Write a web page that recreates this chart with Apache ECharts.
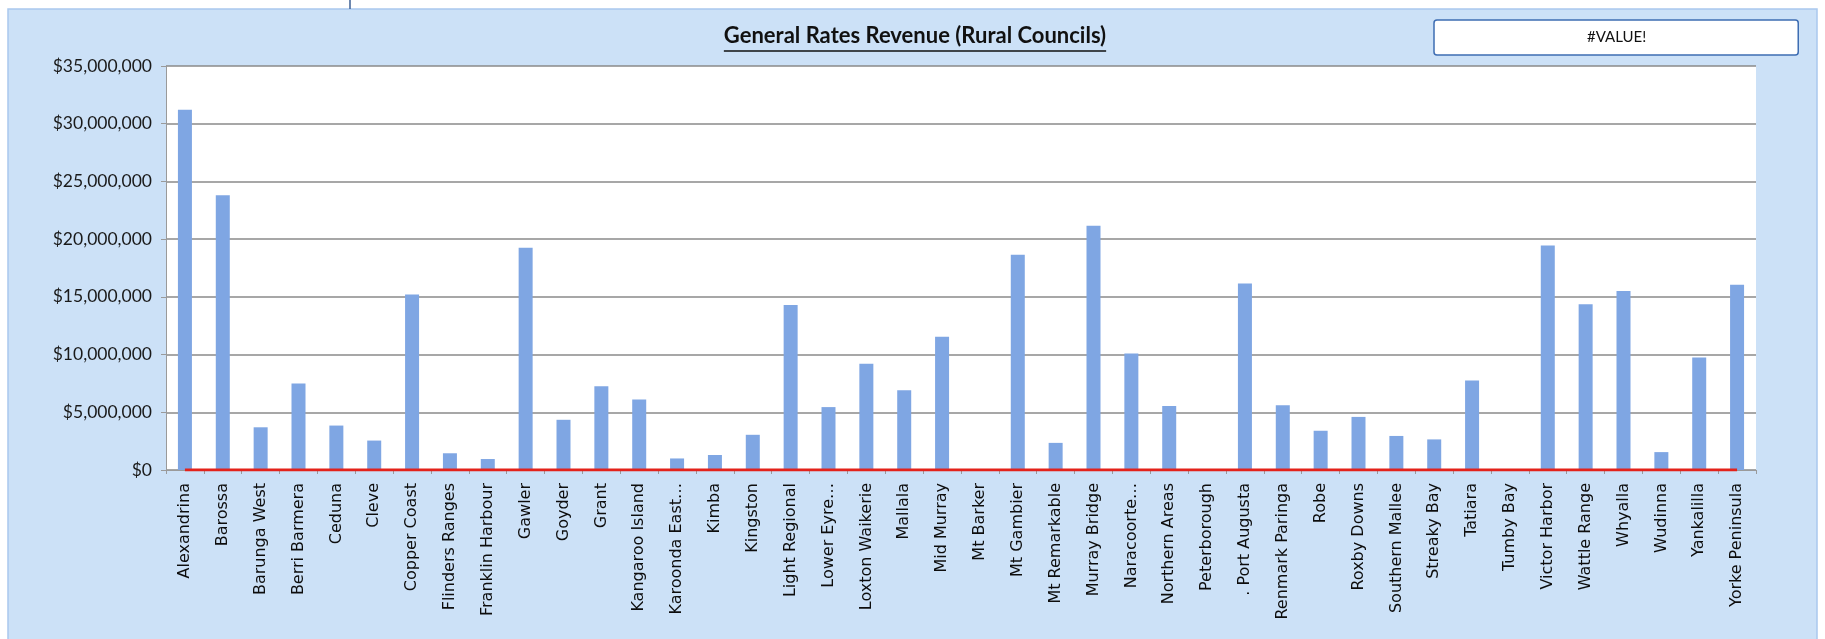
<!DOCTYPE html>
<html>
<head>
<meta charset="utf-8">
<title>General Rates Revenue (Rural Councils)</title>
<script src="https://cdn.jsdelivr.net/npm/echarts@6/dist/echarts.min.js"></script>
<style>
  html, body { margin: 0; padding: 0; background: #ffffff; }
  #chart { width: 1825px; height: 639px; }
</style>
</head>
<body>
<div id="chart"></div>
<script>
// Council names along the category axis
const councils = [
  'Alexandrina', 'Barossa', 'Barunga West', 'Berri Barmera', 'Ceduna', 'Cleve',
  'Copper Coast', 'Flinders Ranges', 'Franklin Harbour', 'Gawler', 'Goyder', 'Grant',
  'Kangaroo Island', 'Karoonda East…', 'Kimba', 'Kingston', 'Light Regional', 'Lower Eyre…',
  'Loxton Waikerie', 'Mallala', 'Mid Murray', 'Mt Barker', 'Mt Gambier', 'Mt Remarkable',
  'Murray Bridge', 'Naracoorte…', 'Northern Areas', 'Peterborough', '. Port Augusta', 'Renmark Paringa',
  'Robe', 'Roxby Downs', 'Southern Mallee', 'Streaky Bay', 'Tatiara', 'Tumby Bay',
  'Victor Harbor', 'Wattle Range', 'Whyalla', 'Wudinna', 'Yankalilla', 'Yorke Peninsula'
];

// General rates revenue per council ($)
const ratesRevenue = [
  31200000, 23800000, 3700000, 7500000, 3850000, 2550000,
  15200000, 1450000, 950000, 19250000, 4350000, 7250000,
  6100000, 1000000, 1300000, 3050000, 14300000, 5450000,
  9200000, 6900000, 11550000, 0, 18650000, 2350000,
  21150000, 10100000, 5550000, 0, 16150000, 5600000,
  3400000, 4600000, 2950000, 2650000, 7750000, 0,
  19450000, 14350000, 15500000, 1550000, 9750000, 16050000
];

// Second series (error result in the source sheet) – plotted at zero
const valueErrorSeries = [
  0, 0, 0, 0, 0, 0, 0, 0, 0, 0, 0, 0, 0, 0,
  0, 0, 0, 0, 0, 0, 0, 0, 0, 0, 0, 0, 0, 0,
  0, 0, 0, 0, 0, 0, 0, 0, 0, 0, 0, 0, 0, 0
];

// Value axis settings
const yMin = 0;
const yMax = 35000000;
const yStep = 5000000;

const titleText = 'General Rates Revenue (Rural Councils)';
const titleFont = 'bold 22px Lato';
const titleCenterX = 915;

// Measure the title so the underline spans exactly the text
const measureCtx = document.createElement('canvas').getContext('2d');
measureCtx.font = titleFont;
const titleWidth = measureCtx.measureText(titleText).width;

function moneyLabel(v) {
  return '$' + Math.round(v).toString().replace(/\B(?=(\d{3})+(?!\d))/g, ',');
}

const chart = echarts.init(document.getElementById('chart'), null, { renderer: 'canvas' });

chart.setOption({
  backgroundColor: '#ffffff',
  animation: false,
  graphic: [
    // light blue chart area
    {
      type: 'rect', z: -10, silent: true,
      shape: { x: 8, y: 9, width: 1809, height: 640 },
      style: { fill: '#cce1f7', stroke: '#a9c8ee', lineWidth: 1.5 }
    },
    // thin divider in the strip above the chart
    {
      type: 'line', z: -10, silent: true,
      shape: { x1: 350, y1: 0, x2: 350, y2: 9 },
      style: { stroke: '#3d5f94', lineWidth: 1.5 }
    },
    // title underline
    {
      type: 'line', z: 10, silent: true,
      shape: { x1: titleCenterX - titleWidth / 2, y1: 51, x2: titleCenterX + titleWidth / 2, y2: 51 },
      style: { stroke: '#111111', lineWidth: 1.5 }
    }
  ],
  title: {
    text: titleText,
    left: titleCenterX - titleWidth / 2,
    top: 25,
    padding: 0,
    textStyle: { fontFamily: 'Lato', fontWeight: 'bold', fontSize: 22, color: '#111111' }
  },
  legend: {
    left: 1434,
    top: 20,
    data: [{ name: '#VALUE!', icon: 'none' }],
    itemWidth: 0,
    itemHeight: 0,
    backgroundColor: '#ffffff',
    borderColor: '#3e6db3',
    borderWidth: 1.5,
    borderRadius: 3,
    padding: [10, 152, 10, 148],
    textStyle: { fontFamily: 'Lato', fontSize: 15, color: '#111111' }
  },
  grid: {
    left: 166,
    right: 69,
    top: 66,
    bottom: 169,
    show: true,
    backgroundColor: '#ffffff',
    borderWidth: 0,
    containLabel: false
  },
  xAxis: {
    type: 'category',
    data: councils,
    boundaryGap: true,
    axisLine: { show: true, lineStyle: { color: '#9a9a9a', width: 1 } },
    axisTick: { show: true, inside: false, length: 4, alignWithLabel: false, lineStyle: { color: '#9a9a9a' } },
    axisLabel: {
      interval: 0,
      rotate: 90,
      margin: 13,
      fontFamily: 'DejaVu Sans',
      fontSize: 16,
      color: '#0d0d0d'
    },
    splitLine: { show: false }
  },
  yAxis: {
    type: 'value',
    min: yMin,
    max: yMax,
    interval: yStep,
    axisLine: { show: true, lineStyle: { color: '#9a9a9a', width: 1 } },
    axisTick: { show: true, inside: false, length: 5, lineStyle: { color: '#9a9a9a' } },
    axisLabel: {
      margin: 14,
      fontFamily: 'Lato',
      fontSize: 17.5,
      color: '#1a1a1a',
      formatter: moneyLabel
    },
    splitLine: { show: true, lineStyle: { color: '#8a8a8a', width: 1.5 } }
  },
  series: [
    {
      name: 'General Rates Revenue',
      type: 'bar',
      data: ratesRevenue,
      barWidth: 14,
      itemStyle: { color: '#7fa6e3' },
      z: 2
    },
    {
      name: '#VALUE!',
      type: 'line',
      data: valueErrorSeries,
      symbol: 'none',
      lineStyle: { color: '#e3221b', width: 3 },
      itemStyle: { color: '#e3221b' },
      z: 5
    }
  ]
});
</script>
</body>
</html>
